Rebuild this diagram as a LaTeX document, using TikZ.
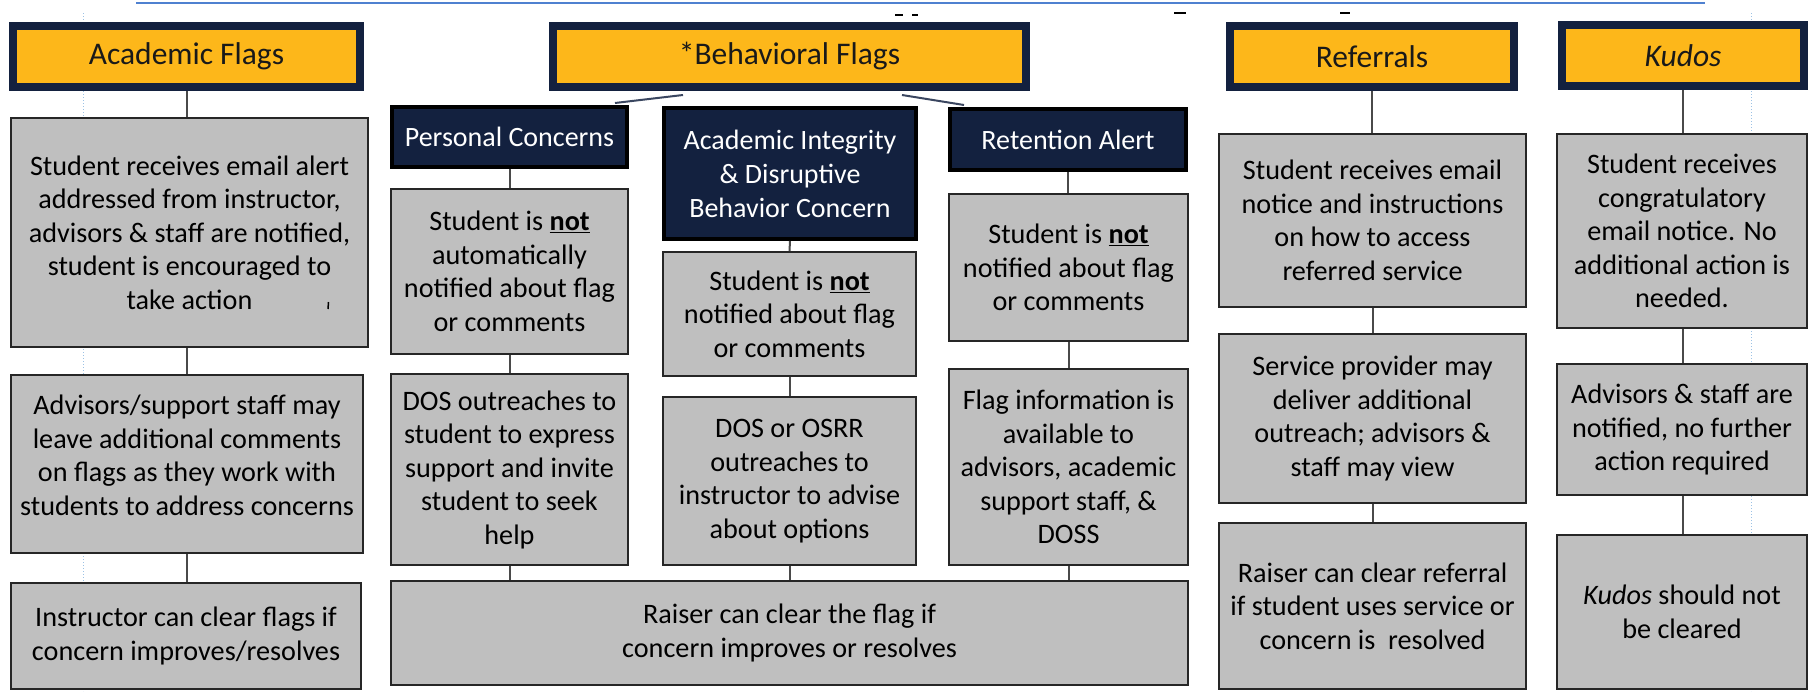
\documentclass[tikz,border=0pt]{standalone}
\usepackage{fontspec}
\setmainfont{Carlito}
\usetikzlibrary{calc}
\definecolor{gold}{HTML}{FDB71A}
\definecolor{navy}{HTML}{13213F}
\definecolor{boxgray}{HTML}{BFBFBF}
\definecolor{linegray}{HTML}{4A4A4A}
\definecolor{topblue}{HTML}{4F81D0}
\definecolor{gridblue}{HTML}{9CC2E5}
\definecolor{diagline}{HTML}{3A4660}
\begin{document}
\begin{tikzpicture}[x=1pt,y=-1pt,
  sz/.style 2 args={minimum width=#1pt, minimum height=#2pt},
  hdr/.style={draw=navy, fill=gold, line width=8pt, inner sep=0pt, text=black!90, font=\fontsize{31.5}{35}\selectfont},
  sub/.style={draw=black, fill=navy, line width=4pt, inner sep=0pt, align=center, text=white, font=\fontsize{28}{34}\selectfont},
  gbox/.style={draw=black!85, fill=boxgray, line width=2pt, inner sep=0pt, align=center, text=black, font=\fontsize{28.2}{33.5}\selectfont},
  conn/.style={draw=linegray, line width=2pt},
  diag/.style={draw=diagline, line width=2pt},
  guide/.style={draw=gridblue, line width=1pt, dotted},
]
\useasboundingbox (0,0) rectangle (1812,691);
\fill[white] (0,0) rectangle (1812,691);
% background guide lines
\draw[guide] (83,13) -- (83,691);
\draw[guide] (1751,13) -- (1751,691);
\draw[draw=topblue, line width=2.5pt] (136,3) -- (1705,3);
% remnants of cut-off title
\draw[line width=2pt] (895,15) -- (903,15);
\draw[line width=2pt] (912,15) -- (918,15);
\draw[line width=2pt] (1174,13) -- (1186,13);
\draw[line width=2pt] (1340,13) -- (1350,13);

% headers
\node[hdr, sz={347}{61}] (acad) at (186.5,56.5) {Academic Flags};
\node[hdr, sz={473}{61}] (beh) at (789.5,56.5) {*Behavioral Flags};
\node[hdr, sz={284}{61}] (ref) at (1372,56.5) {Referrals};
\node[hdr, sz={242}{61}] (kud) at (1683,55.5) {\itshape Kudos};

% navy sub headers
\node[sub, sz={235}{60}] (pc) at (509.5,137) {Personal Concerns};
\node[sub, sz={252}{131}] (ai) at (790,173.5) {Academic Integrity\\\& Disruptive\\Behavior Concern};
\node[sub, sz={236}{61}] (ra) at (1068,139.5) {Retention Alert};

% academic column
\node[gbox, sz={357}{229}] (a1) at (189.5,232.5) {Student receives email alert\\addressed from instructor,\\advisors \& staff are notified,\\student is encouraged to\\take action};
\node[gbox, sz={352}{178}, text depth=18pt] (a2) at (187,464) {Advisors/support staff may\\leave additional comments\\on flags as they work with\\students to address concerns};
\node[gbox, sz={350}{106}] (a3) at (186,636) {Instructor can clear flags if\\concern improves/resolves};
\draw[line width=1.5pt] (328.5,302) -- (328,309);

% personal concerns column
\node[gbox, sz={237}{165}] (p1) at (509.5,271.5) {Student is \underline{\textbf{not}}\\automatically\\notified about flag\\or comments};
\node[gbox, sz={237}{191}] (p2) at (509.5,469.5) {DOS outreaches to\\student to express\\support and invite\\student to seek\\help};

% academic integrity column
\node[gbox, sz={253}{124}] (i1) at (789.5,314) {Student is \underline{\textbf{not}}\\notified about flag\\or comments};
\node[gbox, sz={253}{168}] (i2) at (789.5,481) {DOS or OSRR\\outreaches to\\instructor to advise\\about options};

% retention column
\node[gbox, sz={239}{147}] (r1) at (1068.5,267.5) {Student is \underline{\textbf{not}}\\notified about flag\\or comments};
\node[gbox, sz={239}{196}] (r2) at (1068.5,467) {Flag information is\\available to\\advisors, academic\\support staff, \&\\DOSS};

% shared bottom
\node[gbox, sz={797}{104}] (bot) at (789.5,633) {Raiser can clear the flag if\\concern improves or resolves};

% referrals column
\node[gbox, sz={307}{173}] (f1) at (1372.5,220.5) {Student receives email\\notice and instructions\\on how to access\\referred service};
\node[gbox, sz={307}{169}] (f2) at (1372.5,418.5) {Service provider may\\deliver additional\\outreach; advisors \&\\staff may view};
\node[gbox, sz={307}{166}] (f3) at (1372.5,606) {Raiser can clear referral\\if student uses service or\\concern is\ \ resolved};

% kudos column
\node[gbox, sz={250}{194}] (k1) at (1682,231) {Student receives\\congratulatory\\email notice. No\\additional action is\\needed.};
\node[gbox, sz={250}{131}] (k2) at (1682,429.5) {Advisors \& staff are\\notified, no further\\action required};
\node[gbox, sz={250}{154}] (k3) at (1682,612) {\textit{Kudos} should not\\be cleared};

% connectors
\draw[conn] (acad.south) -- (acad.south |- a1.north);
\draw[conn] (a1.south -| acad.south) -- (acad.south |- a2.north);
\draw[conn] (a2.south -| acad.south) -- (acad.south |- a3.north);

\draw[conn] (pc.south) -- (pc.south |- p1.north);
\draw[conn] (p1.south) -- (p2.north);
\draw[conn] (p2.south) -- (p2.south |- bot.north);

\draw[conn] (ai.south) -- (i1.north);
\draw[conn] (i1.south) -- (i2.north);
\draw[conn] (i2.south) -- (i2.south |- bot.north);

\draw[conn] (ra.south) -- (ra.south |- r1.north);
\draw[conn] (r1.south) -- (r2.north);
\draw[conn] (r2.south) -- (r2.south |- bot.north);

\draw[conn] (ref.south) -- (ref.south |- f1.north);
\draw[conn] (f1.south) -- (f2.north);
\draw[conn] (f2.south) -- (f3.north);

\draw[conn] (kud.south) -- (kud.south |- k1.north);
\draw[conn] (k1.south -| kud.south) -- (kud.south |- k2.north);
\draw[conn] (k2.south -| kud.south) -- (kud.south |- k3.north);

\draw[diag] ($(beh.south west)+(134,4)$) -- ($(pc.north east)+(-14,-2)$);
\draw[diag] ($(beh.south west)+(353,4)$) -- ($(ra.north west)+(16,-2)$);
\end{tikzpicture}
\end{document}
